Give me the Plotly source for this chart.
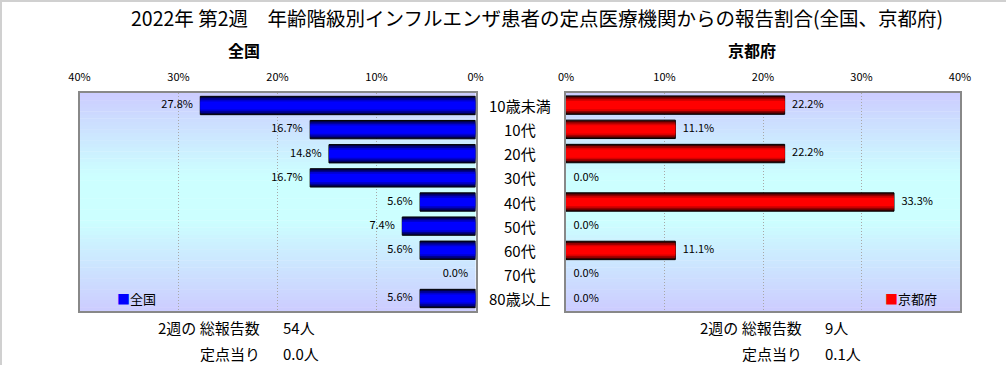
import plotly.graph_objects as go

W, H = 1006, 365

categories = ["10歳未満", "10代", "20代", "30代", "40代", "50代", "60代", "70代", "80歳以上"]
national = [27.8, 16.7, 14.8, 16.7, 5.6, 7.4, 5.6, 0.0, 5.6]
kyoto = [22.2, 11.1, 22.2, 0.0, 33.3, 0.0, 11.1, 0.0, 0.0]
tick_vals = [0, 10, 20, 30, 40]
tick_text = ["0%", "10%", "20%", "30%", "40%"]

title_text = "2022年 第2週　年齢階級別インフルエンザ患者の定点医療機関からの報告割合(全国、京都府)"
left_title = "全国"
right_title = "京都府"
left_notes = [("2週の 総報告数", "54人"), ("定点当り", "0.0人")]
right_notes = [("2週の 総報告数", "9人"), ("定点当り", "0.1人")]

FONT = "Noto Sans CJK JP, Noto Sans, sans-serif"
NB = "\u00a0"

def px_x(v):
    return v / W

def px_y(v):
    return 1 - v / H

fig = go.Figure()

# layered bars to imitate the cylinder shading
blue_layers = [(0.76, "#000048", True), (0.62, "#00008c", False), (0.48, "#0000d0", False), (0.34, "#0000ff", False)]
red_layers = [(0.76, "#400000", True), (0.62, "#900000", False), (0.48, "#d80000", False), (0.34, "#ff0000", False)]

def add_layers(values, layers, xa, ya, name):
    for wd, col, main in layers:
        fig.add_trace(go.Bar(
            y=categories, x=values, orientation="h", width=wd,
            marker=dict(color=col, line=dict(color="#000000",
                                             width=[(1 if (main and v > 0) else 0) for v in values])),
            name=name, showlegend=False, xaxis=xa, yaxis=ya, hoverinfo="skip",
        ))

add_layers(national, blue_layers, "x", "y", left_title)
add_layers(kyoto, red_layers, "x2", "y2", right_title)

# value labels
fig.add_trace(go.Scatter(
    x=national, y=categories, mode="text", xaxis="x", yaxis="y",
    text=[f"{v:.1f}%{NB}{NB}{NB}" for v in national], textposition="middle left",
    textfont=dict(size=11, color="#000000", family=FONT), cliponaxis=False,
    showlegend=False, hoverinfo="skip",
))
fig.add_trace(go.Scatter(
    x=kyoto, y=categories, mode="text", xaxis="x2", yaxis="y2",
    text=[f"{NB}{NB}{NB}{v:.1f}%" for v in kyoto], textposition="middle right",
    textfont=dict(size=11, color="#000000", family=FONT), cliponaxis=False,
    showlegend=False, hoverinfo="skip",
))

# plot areas
L = (79.5, 475.5)
R = (566, 960)
TOP, BOT = 93, 311

axis_common = dict(
    side="top", tickmode="array", tickvals=tick_vals, ticktext=tick_text, showgrid=True,
    gridcolor="#a8a8a8", griddash="1px,2px", gridwidth=1,
    showline=True, linecolor="#888888", linewidth=1.5, mirror=True,
    ticks="", ticklabelstandoff=6, zeroline=False,
    tickfont=dict(size=11, color="#000000", family=FONT), fixedrange=True,
)
yaxis_common = dict(
    categoryorder="array", categoryarray=categories, autorange="reversed",
    showticklabels=False, showgrid=False, showline=True, linecolor="#888888",
    linewidth=1.5, mirror=True, ticks="", fixedrange=True,
)

fig.update_layout(
    width=W, height=H,
    margin=dict(l=0, r=0, t=0, b=0, autoexpand=False),
    paper_bgcolor="#ffffff", plot_bgcolor="rgba(0,0,0,0)",
    barmode="overlay", showlegend=False,
    font=dict(family=FONT, color="#000000"),
    xaxis=dict(domain=[px_x(L[0]), px_x(L[1])], range=[40, 0], anchor="y", **axis_common),
    xaxis2=dict(domain=[px_x(R[0]), px_x(R[1])], range=[0, 40], anchor="y2", **axis_common),
    yaxis=dict(domain=[px_y(BOT), px_y(TOP)], anchor="x", **yaxis_common),
    yaxis2=dict(domain=[px_y(BOT), px_y(TOP)], anchor="x2", **yaxis_common),
)

# gradient background strips
def lerp(c1, c2, t):
    return tuple(round(a + (b - a) * t) for a, b in zip(c1, c2))

lav = (204, 204, 255)
cyan = (204, 255, 255)
stops = [(0.0, lav), (0.38, cyan), (0.58, cyan), (1.0, lav)]

def color_at(t):
    for (t0, c0), (t1, c1) in zip(stops[:-1], stops[1:]):
        if t0 <= t <= t1:
            return lerp(c0, c1, (t - t0) / (t1 - t0) if t1 > t0 else 0)
    return stops[-1][1]

N = 60
shapes = []
for ax in ["", "2"]:
    for k in range(N):
        t0, t1 = k / N, (k + 1) / N
        c = color_at((t0 + t1) / 2)
        shapes.append(dict(
            type="rect", xref=f"x{ax} domain", yref=f"y{ax} domain",
            x0=0, x1=1, y0=1 - t1 - 0.002, y1=1 - t0,
            fillcolor=f"rgb{c}", line=dict(width=0), layer="below",
        ))
# outer frame (light gray, top and left)
shapes.append(dict(type="line", xref="paper", yref="paper", x0=0.001, x1=0.001, y0=0, y1=1,
                   line=dict(color="#d0d0d0", width=2)))
shapes.append(dict(type="line", xref="paper", yref="paper", x0=0, x1=1, y0=0.997, y1=0.997,
                   line=dict(color="#d0d0d0", width=2)))
fig.update_layout(shapes=shapes)

ann = []
ann.append(dict(text=title_text, x=px_x(537), y=px_y(17), xref="paper", yref="paper",
                showarrow=False, font=dict(size=19.5, family=FONT), xanchor="center", yanchor="middle"))
ann.append(dict(text=f"<b>{left_title}</b>", x=px_x(244), y=px_y(50), xref="paper", yref="paper",
                showarrow=False, font=dict(size=16, family=FONT), xanchor="center", yanchor="middle"))
ann.append(dict(text=f"<b>{right_title}</b>", x=px_x(752), y=px_y(50), xref="paper", yref="paper",
                showarrow=False, font=dict(size=16, family=FONT), xanchor="center", yanchor="middle"))
for c in categories:
    ann.append(dict(text=c, x=px_x(520), y=c, xref="paper", yref="y", showarrow=False,
                    font=dict(size=15, family=FONT), xanchor="center", yanchor="middle"))
# legends
ann.append(dict(text=f"<span style='color:#0000ff'>■</span>{left_title}", x=px_x(115), y=px_y(298),
                xref="paper", yref="paper", showarrow=False, font=dict(size=13, family=FONT),
                xanchor="left", yanchor="middle"))
ann.append(dict(text=f"<span style='color:#ff0000'>■</span>{right_title}", x=px_x(883), y=px_y(298),
                xref="paper", yref="paper", showarrow=False, font=dict(size=13, family=FONT),
                xanchor="left", yanchor="middle"))
for (lab, val), yy in zip(left_notes, [327, 353]):
    ann.append(dict(text=lab, x=px_x(262), y=px_y(yy), xref="paper", yref="paper", showarrow=False,
                    font=dict(size=15, family=FONT), xanchor="right", yanchor="middle"))
    ann.append(dict(text=val, x=px_x(281), y=px_y(yy), xref="paper", yref="paper", showarrow=False,
                    font=dict(size=15, family=FONT), xanchor="left", yanchor="middle"))
for (lab, val), yy in zip(right_notes, [327, 353]):
    ann.append(dict(text=lab, x=px_x(804), y=px_y(yy), xref="paper", yref="paper", showarrow=False,
                    font=dict(size=15, family=FONT), xanchor="right", yanchor="middle"))
    ann.append(dict(text=val, x=px_x(823), y=px_y(yy), xref="paper", yref="paper", showarrow=False,
                    font=dict(size=15, family=FONT), xanchor="left", yanchor="middle"))
fig.update_layout(annotations=ann)

fig.write_html(
    "out.html",
    config={"displayModeBar": False},
    post_script="document.body.style.margin='0';document.body.style.overflow='hidden';",
)
